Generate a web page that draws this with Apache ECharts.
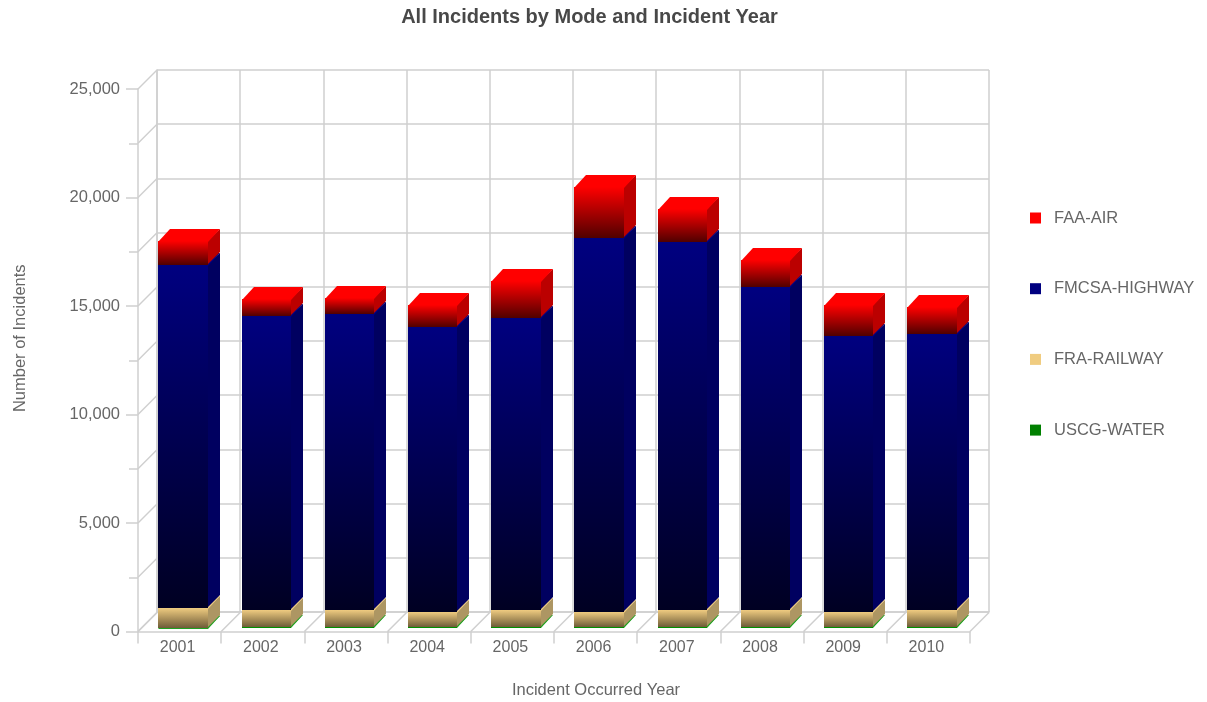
<!DOCTYPE html>
<html>
<head>
<meta charset="utf-8">
<title>All Incidents by Mode and Incident Year</title>
<script src="https://cdn.jsdelivr.net/npm/echarts@6/dist/echarts.min.js"></script>
<style>html,body{margin:0;padding:0;background:#fff}#chart{width:1207px;height:702px}</style>
</head>
<body>
<div id="chart"></div>
<script>
// Incident counts per year and transport mode
const years = ['2001','2002','2003','2004','2005','2006','2007','2008','2009','2010'];
const water = [20, 30, 30, 30, 50, 55, 55, 55, 55, 60];
const railway = [900, 795, 795, 705, 775, 680, 770, 770, 680, 765];
const highway = [15795, 13540, 13630, 13120, 13450, 17220, 16945, 14870, 12710, 12710];
const air = [1100, 780, 740, 1015, 1700, 2350, 1520, 1250, 1425, 1240];

const yMax = 25000;
const yStep = 5000;

const font = 'Liberation Sans, Arial, sans-serif';
const gridColor = '#cfcfcf';
const textColor = '#666666';
const axisFontSize = 16;

// Pixel depth of the wall/floor box and of each bar
const wallDepth = [19, -19];
const barInset = [3.5, -3.5];
const barDepth = [12, -12];
const barFill = 0.595;

const modes = [
  { name: 'USCG-WATER', values: water, legend: '#008000', front: ['#008000', '#00a000'], side: '#20a020', top: '#20a020' },
  { name: 'FRA-RAILWAY', values: railway, legend: '#f0cc80', front: ['#efcb80', '#6e5c38'], side: '#ad9663', top: '#f0cc80' },
  { name: 'FMCSA-HIGHWAY', values: highway, legend: '#000080', front: ['#000080', '#000022'], side: '#000060', top: '#000080' },
  { name: 'FAA-AIR', values: air, legend: '#ff0000', front: ['#ff0000', '#500000'], side: '#bb0000', top: '#ff0000' }
];

// Running totals so each segment starts where the one below it ends
const running = years.map(() => 0);
const stacked = modes.map(mode => mode.values.map((v, i) => {
  const start = running[i];
  running[i] += v;
  return [i, start, running[i]];
}));

function poly(points, fill) {
  return { type: 'polygon', shape: { points }, style: { fill, stroke: null, lineWidth: 0 }, silent: true };
}

function renderSegment(mode) {
  return function (params, api) {
    const band = api.size([1, 0])[0];
    const w = band * barFill;
    const a = api.coord([api.value(0), api.value(1)]);
    const b = api.coord([api.value(0), api.value(2)]);
    // Whole-pixel edges keep the faces from showing seams where they meet
    const x0 = Math.round(a[0] - w / 2 + barInset[0]);
    const x1 = Math.round(a[0] + w / 2 + barInset[0]);
    const y0 = Math.round(a[1] + barInset[1]);
    const y1 = Math.round(b[1] + barInset[1]);
    const dx = barDepth[0], dy = barDepth[1];
    return {
      type: 'group',
      children: [
        poly([[x1 - 1, y0], [x1 + dx, y0 + dy - 1], [x1 + dx, y1 + dy], [x1 - 1, y1]], mode.side),
        poly([[x0, y1 + 1], [x1, y1 + 1], [x1 + dx, y1 + dy], [x0 + dx, y1 + dy]], mode.top),
        poly([[x0, y1], [x1, y1], [x1, y0], [x0, y0]],
          new echarts.graphic.LinearGradient(0, 0, 0, 1, [
            { offset: 0, color: mode.front[0] },
            { offset: 1, color: mode.front[1] }
          ]))
      ]
    };
  };
}

// Diagonal lines joining the front axes to the back wall
function diagonal(p) {
  return {
    type: 'line',
    shape: { x1: p[0], y1: p[1], x2: p[0] + wallDepth[0], y2: p[1] + wallDepth[1] },
    style: { stroke: gridColor, lineWidth: 1.5, fill: null },
    silent: true
  };
}

const yTickValues = [];
for (let v = 0; v <= yMax; v += yStep / 2) yTickValues.push(v);

const wallLines = {
  type: 'custom',
  xAxisIndex: 0,
  yAxisIndex: 0,
  z: 1,
  silent: true,
  data: yTickValues.map(v => [0, v]),
  renderItem(params, api) {
    const p = api.coord([0, api.value(1)]);
    const band = api.size([1, 0])[0];
    return diagonal([p[0] - band / 2, p[1]]);
  }
};

const floorLines = {
  type: 'custom',
  xAxisIndex: 0,
  yAxisIndex: 0,
  z: 1,
  silent: true,
  data: years.map((y, i) => [i, 0]).concat([[years.length, 0]]),
  renderItem(params, api) {
    const band = api.size([1, 0])[0];
    const first = api.coord([0, 0]);
    return diagonal([first[0] - band / 2 + api.value(0) * band, first[1]]);
  }
};

const chart = echarts.init(document.getElementById('chart'), null, { renderer: 'canvas' });
chart.setOption({
  animation: false,
  backgroundColor: '#ffffff',
  textStyle: { fontFamily: font },
  title: {
    text: 'All Incidents by Mode and Incident Year',
    left: 584.5,
    textAlign: 'center',
    top: 2,
    textStyle: { fontFamily: font, fontSize: 20, fontWeight: 'bold', color: '#484848' }
  },
  legend: {
    orient: 'vertical',
    left: 1025,
    top: 204.5,
    itemWidth: 11,
    itemHeight: 11,
    itemGap: 53.7,
    icon: 'rect',
    data: ['FAA-AIR', 'FMCSA-HIGHWAY', 'FRA-RAILWAY', 'USCG-WATER'],
    selectedMode: false,
    textStyle: { fontFamily: font, fontSize: 16.5, lineHeight: 16, color: textColor, padding: [0, 0, 0, 8] }
  },
  grid: [
    { left: 138, top: 89, width: 832, height: 542.5, outerBoundsMode: 'none' },
    { left: 157, top: 70, width: 832, height: 542, outerBoundsMode: 'none' }
  ],
  xAxis: [
    {
      type: 'category',
      gridIndex: 0,
      data: years,
      boundaryGap: true,
      name: 'Incident Occurred Year',
      nameLocation: 'middle',
      nameGap: 50,
      nameTextStyle: { fontFamily: font, fontSize: 16.5, color: textColor, padding: [0, 0, 0, 84] },
      axisLine: { lineStyle: { color: gridColor, width: 1.5 } },
      axisTick: { show: true, length: 12, interval: 0, lineStyle: { color: gridColor, width: 1.5 } },
      axisLabel: { interval: 0, margin: 8, fontFamily: font, fontSize: axisFontSize, color: textColor, padding: [0, 4, 0, 0] },
      splitLine: { show: false }
    },
    {
      type: 'category',
      gridIndex: 1,
      data: years,
      boundaryGap: true,
      axisLine: { lineStyle: { color: gridColor, width: 1.5 } },
      axisTick: { show: false },
      axisLabel: { show: false },
      splitLine: { show: true, interval: 0, lineStyle: { color: gridColor, width: 1.5 } }
    }
  ],
  yAxis: [
    {
      type: 'value',
      gridIndex: 0,
      min: 0,
      max: yMax,
      interval: yStep,
      name: 'Number of Incidents',
      nameLocation: 'middle',
      nameGap: 109,
      nameTextStyle: { fontFamily: font, fontSize: 16.5, color: textColor, padding: [0, 0, 0, 44] },
      axisLine: { show: true, lineStyle: { color: gridColor, width: 1.5 } },
      axisTick: { show: true, length: 12, lineStyle: { color: gridColor, width: 1.5 } },
      minorTick: { show: true, splitNumber: 2, length: 9, lineStyle: { color: gridColor, width: 1.5 } },
      axisLabel: {
        margin: 18,
        fontFamily: font,
        fontSize: 16.5,
        color: textColor,
        padding: [2, 0, 0, 0],
        formatter: v => v.toLocaleString('en-US')
      },
      splitLine: { show: false }
    },
    {
      type: 'value',
      gridIndex: 1,
      min: 0,
      max: yMax,
      interval: yStep,
      axisLine: { show: true, lineStyle: { color: gridColor, width: 1.5 } },
      axisTick: { show: false },
      axisLabel: { show: false },
      splitLine: { show: true, lineStyle: { color: gridColor, width: 1.5 } },
      minorTick: { show: false, splitNumber: 2 },
      minorSplitLine: { show: true, lineStyle: { color: gridColor, width: 1.5 } }
    }
  ],
  series: [
    wallLines,
    floorLines
  ].concat(modes.map((mode, k) => ({
    type: 'custom',
    name: mode.name,
    xAxisIndex: 0,
    yAxisIndex: 0,
    z: 5,
    itemStyle: { color: mode.legend },
    encode: { x: 0, y: [1, 2] },
    data: stacked[k],
    renderItem: renderSegment(mode)
  })))
});
</script>
</body>
</html>
